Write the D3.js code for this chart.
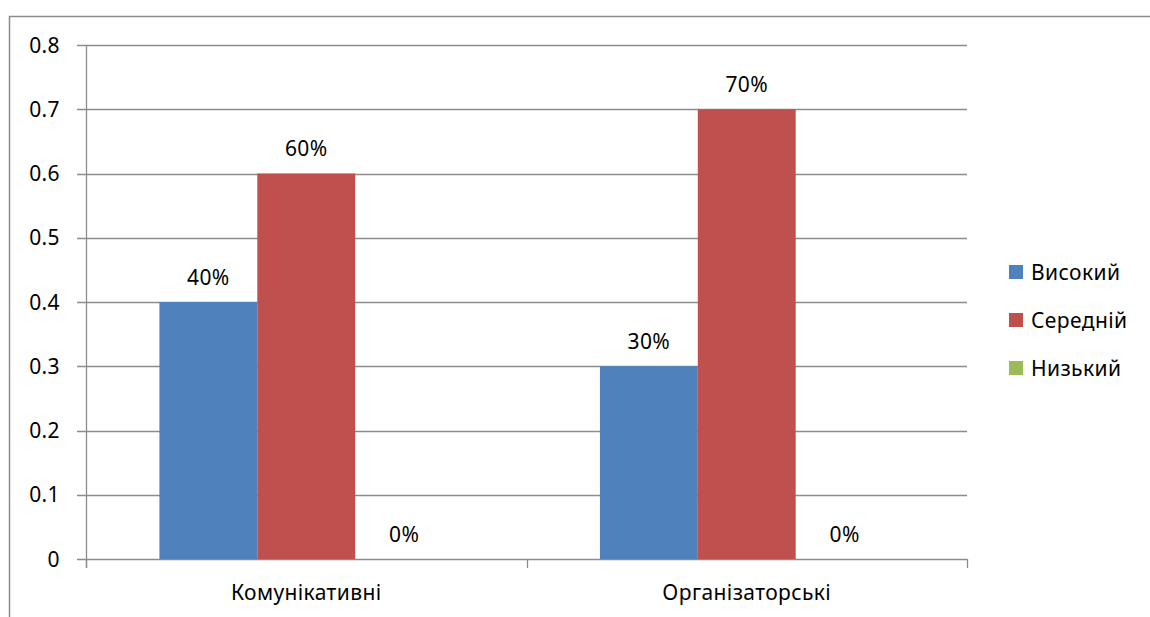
<!DOCTYPE html>
<html>
<head>
<meta charset="utf-8">
<script src="https://cdn.jsdelivr.net/npm/d3@7"></script>
<style>
  body { margin: 0; background: #fff; }
  text { font-family: 'Noto Sans', 'Open Sans', sans-serif; fill: #000; font-size: 21px; letter-spacing: 0.4px; }
</style>
</head>
<body>
<div id="chart"></div>
<script>
const categories = ['Комунікативні', 'Організаторські']
const seriesNames = ['Високий', 'Середній', 'Низький']
const seriesColors = ['#4f81bd', '#c0504d', '#9bbb59']
const vysokyi = [0.4, 0.3]
const serednii = [0.6, 0.7]
const nyzkyi = [0, 0]
const yTicks = [0, 0.1, 0.2, 0.3, 0.4, 0.5, 0.6, 0.7, 0.8]

const width = 1150
const height = 617
const margin = { top: 45, left: 86, right: 183, bottom: 58 }

const svg = d3.select('#chart').append('svg')
  .attr('width', width)
  .attr('height', height)

// outer chart frame (runs off the right and bottom edges)
svg.append('path')
  .attr('d', `M9.5,${height + 5}V16.5H${width + 5}`)
  .attr('fill', 'none')
  .attr('stroke', '#8c8c8c')
  .attr('stroke-width', 1.5)

const x0 = d3.scaleBand()
  .domain(categories)
  .range([margin.left, width - margin.right])

const x1 = d3.scaleBand()
  .domain(seriesNames)
  .range([0, x0.bandwidth()])
  .paddingOuter(0.75)

const y = d3.scaleLinear()
  .domain([0, 0.8])
  .range([height - margin.bottom, margin.top])

// gridlines
svg.append('g')
  .selectAll('line')
  .data(yTicks)
  .enter()
  .append('line')
  .attr('x1', margin.left - 9)
  .attr('x2', width - margin.right)
  .attr('y1', d => Math.round(y(d)) + 0.5)
  .attr('y2', d => Math.round(y(d)) + 0.5)
  .attr('stroke', '#8c8c8c')
  .attr('stroke-width', 1.3)

// y axis line
svg.append('line')
  .attr('x1', margin.left + 0.5)
  .attr('x2', margin.left + 0.5)
  .attr('y1', y(0.8))
  .attr('y2', y(0) + 9)
  .attr('stroke', '#8c8c8c')
  .attr('stroke-width', 1.3)

// category ticks
const catTicks = [margin.left, margin.left + x0.bandwidth(), width - margin.right]
svg.append('g')
  .selectAll('line')
  .data(catTicks)
  .enter()
  .append('line')
  .attr('x1', d => Math.round(d) + 0.5)
  .attr('x2', d => Math.round(d) + 0.5)
  .attr('y1', y(0))
  .attr('y2', y(0) + 9)
  .attr('stroke', '#8c8c8c')
  .attr('stroke-width', 1.3)

svg.append('g')
  .selectAll('text')
  .data(yTicks)
  .enter()
  .append('text')
  .attr('x', 60)
  .attr('y', d => y(d))
  .attr('dy', '0.36em')
  .attr('text-anchor', 'end')
  .text(d => d3.format('')(d))

const rows = categories.map((c, i) => ({
  category: c,
  values: [vysokyi[i], serednii[i], nyzkyi[i]]
}))

const groups = svg.append('g')
  .selectAll('g')
  .data(rows)
  .enter()
  .append('g')
  .attr('transform', d => `translate(${x0(d.category)},0)`)

groups.selectAll('rect')
  .data(d => d.values.map((v, j) => ({ name: seriesNames[j], value: v, color: seriesColors[j] })))
  .enter()
  .append('rect')
  .attr('x', d => x1(d.name))
  .attr('width', x1.bandwidth())
  .attr('y', d => y(d.value))
  .attr('height', d => y(0) - y(d.value))
  .attr('fill', d => d.color)

groups.selectAll('text')
  .data(d => d.values.map((v, j) => ({ name: seriesNames[j], value: v })))
  .enter()
  .append('text')
  .attr('x', d => x1(d.name) + x1.bandwidth() / 2)
  .attr('y', d => y(d.value) - 25)
  .attr('dy', '0.36em')
  .attr('text-anchor', 'middle')
  .text(d => d3.format('.0%')(d.value))

svg.append('g')
  .selectAll('text')
  .data(categories)
  .enter()
  .append('text')
  .attr('x', d => x0(d) + x0.bandwidth() / 2)
  .attr('y', 592)
  .attr('dy', '0.36em')
  .attr('text-anchor', 'middle')
  .text(d => d)

const legend = svg.append('g')
  .selectAll('g')
  .data(seriesNames)
  .enter()
  .append('g')
  .attr('transform', (d, i) => `translate(1009,${272 + i * 48})`)

legend.append('rect')
  .attr('x', 0)
  .attr('y', -7)
  .attr('width', 14)
  .attr('height', 14)
  .attr('fill', (d, i) => seriesColors[i])

legend.append('text')
  .attr('x', 22)
  .attr('dy', '0.36em')
  .text(d => d)
</script>
</body>
</html>
